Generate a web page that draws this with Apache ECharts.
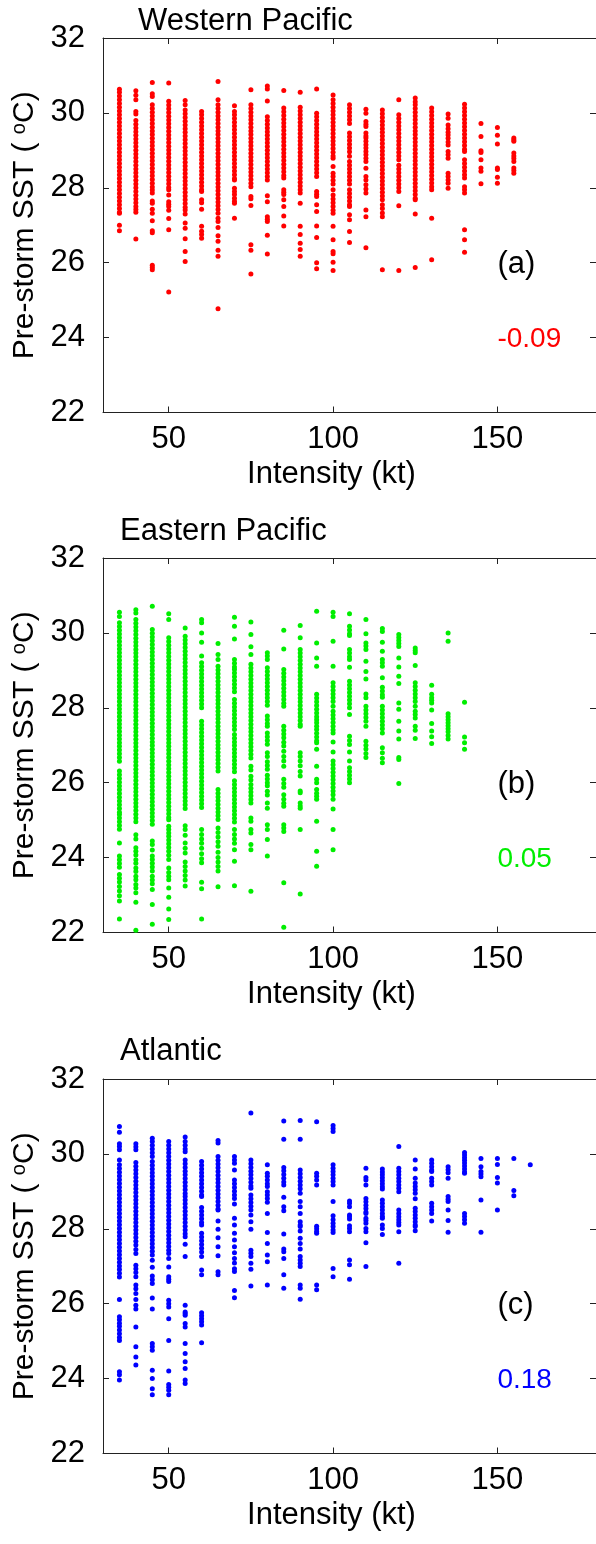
<!DOCTYPE html>
<html>
<head>
<meta charset="utf-8">
<script src="https://cdn.jsdelivr.net/npm/echarts@6/dist/echarts.min.js"></script>
<style>
  html, body { margin: 0; padding: 0; background: #fff; overflow: hidden; }
  #chart { width: 596px; height: 1544px; }
</style>
</head>
<body>
<div id="chart"></div>
<script>
// Intensity bins (kt); each basin array holds one list of pre-storm SST (degC) per bin
const intensityKt = [35,40,45,50,55,60,65,70,75,80,85,90,95,100,105,110,115,120,125,130,135,140,145,150,155,160];

const wpSst = [
  [30.63,30.55,30.45,30.35,30.25,30.15,30.05,29.95,29.85,29.75,29.65,29.55,29.45,29.35,29.25,29.15,29.05,28.95,28.85,28.75,28.65,28.55,28.45,28.35,28.25,28.15,28.05,27.95,27.85,27.75,27.65,27.55,27.45,27.35,27.32,27.0,26.85],
  [30.59,30.47,30.35,30.04,29.97,29.8,29.7,29.6,29.5,29.4,29.3,29.2,29.1,29.0,28.9,28.8,28.7,28.6,28.5,28.4,28.3,28.2,28.1,28.0,27.9,27.8,27.7,27.6,27.5,27.42,27.35,26.63],
  [30.81,30.51,30.44,30.22,30.12,30.02,29.92,29.82,29.72,29.62,29.52,29.42,29.32,29.22,29.12,29.02,28.92,28.82,28.72,28.62,28.52,28.42,28.32,28.22,28.12,28.02,27.94,27.86,27.65,27.59,27.43,27.32,27.12,26.85,26.8,25.93,25.87,25.81],
  [30.8,30.31,30.21,30.11,30.01,29.91,29.81,29.71,29.61,29.51,29.41,29.31,29.21,29.11,29.01,28.91,28.81,28.71,28.61,28.51,28.41,28.31,28.21,28.11,28.01,27.95,27.81,27.63,27.56,27.5,27.4,27.18,26.88,25.22],
  [30.33,30.22,30.08,29.98,29.88,29.78,29.68,29.58,29.48,29.38,29.28,29.18,29.08,28.98,28.88,28.78,28.68,28.58,28.48,28.38,28.28,28.18,28.08,27.98,27.88,27.78,27.68,27.58,27.48,27.41,27.3,27.06,26.92,26.64,26.3,26.03],
  [30.04,29.95,29.85,29.75,29.65,29.55,29.45,29.35,29.25,29.15,29.05,28.95,28.85,28.75,28.65,28.55,28.45,28.35,28.25,28.15,28.05,27.95,27.9,27.68,27.6,27.43,26.97,26.84,26.75,26.65],
  [30.84,30.35,30.22,30.12,30.02,29.92,29.82,29.72,29.62,29.52,29.42,29.32,29.22,29.12,29.02,28.92,28.82,28.72,28.62,28.52,28.42,28.32,28.22,28.12,28.02,27.92,27.82,27.72,27.62,27.52,27.42,27.32,27.19,27.1,26.94,26.72,26.57,26.33,26.17,24.77],
  [30.19,30.04,29.95,29.85,29.75,29.65,29.55,29.45,29.35,29.25,29.15,29.05,28.95,28.85,28.75,28.65,28.55,28.45,28.35,28.25,28.21,27.99,27.9,27.82,27.72,27.64,27.59,27.19],
  [30.62,30.22,30.12,30.02,29.92,29.82,29.72,29.62,29.52,29.42,29.32,29.22,29.12,29.02,28.92,28.82,28.72,28.62,28.52,28.42,28.32,28.22,28.12,28.03,27.77,27.71,27.53,26.48,26.33,25.7],
  [30.72,30.64,30.32,29.9,29.8,29.7,29.6,29.5,29.4,29.3,29.2,29.1,29.0,28.9,28.8,28.7,28.6,28.5,28.4,28.3,28.21,27.79,27.63,27.23,27.16,27.1,26.73,26.23],
  [30.6,30.13,30.03,29.93,29.83,29.73,29.63,29.53,29.43,29.33,29.23,29.13,29.03,28.93,28.83,28.73,28.63,28.53,28.43,28.33,28.26,27.95,27.88,27.82,27.68,27.5,27.25,26.98],
  [30.55,30.15,30.05,29.95,29.85,29.75,29.65,29.55,29.45,29.35,29.25,29.15,29.05,28.95,28.85,28.75,28.65,28.55,28.45,28.35,28.25,28.15,28.05,27.95,27.86,27.59,26.97,26.75,26.52,26.35,26.17],
  [30.64,29.99,29.9,29.8,29.7,29.6,29.5,29.4,29.3,29.2,29.1,29.0,28.9,28.8,28.7,28.6,28.5,28.4,28.3,27.9,27.83,27.77,27.55,27.37,26.98,26.67,26.0,25.84],
  [30.48,30.35,30.25,30.15,30.05,29.95,29.85,29.75,29.65,29.55,29.45,29.35,29.25,29.15,29.05,28.95,28.85,28.79,28.57,28.39,28.3,28.2,28.1,27.95,27.81,27.7,27.6,27.5,27.4,27.32,26.97,26.61,26.3,26.24,26.01,25.79],
  [30.22,30.12,30.02,29.92,29.82,29.72,29.46,29.36,29.26,29.16,29.06,28.96,28.84,28.7,28.6,28.5,28.4,28.3,28.2,28.1,27.95,27.85,27.75,27.65,27.55,27.5,27.28,27.15,26.83,26.54],
  [30.1,29.99,29.77,29.7,29.64,29.46,29.38,29.33,29.24,29.15,29.06,28.97,28.88,28.79,28.7,28.52,28.3,28.21,28.08,27.97,27.86,27.41,27.23,26.4],
  [30.08,29.98,29.88,29.78,29.68,29.58,29.48,29.38,29.28,29.18,29.08,28.98,28.88,28.78,28.68,28.58,28.48,28.38,28.28,28.18,28.08,27.98,27.88,27.78,27.68,27.55,27.45,27.33,27.23,25.81],
  [30.35,29.95,29.85,29.75,29.65,29.55,29.45,29.35,29.25,29.15,29.05,28.95,28.85,28.75,28.6,28.5,28.4,28.3,28.2,28.1,28.0,27.9,27.52,25.79],
  [30.4,30.3,30.22,30.12,30.02,29.92,29.82,29.72,29.62,29.52,29.42,29.32,29.22,29.12,29.02,28.92,28.82,28.72,28.62,28.52,28.42,28.32,28.22,28.12,28.02,27.92,27.82,27.72,27.68,27.3,25.87],
  [30.13,30.03,29.93,29.83,29.73,29.63,29.53,29.43,29.33,29.23,29.13,29.03,28.93,28.83,28.73,28.63,28.53,28.43,28.33,28.23,28.13,28.03,27.95,27.19,26.08],
  [29.97,29.86,29.68,29.58,29.48,29.41,29.32,29.22,29.14,28.97,28.88,28.79,28.39,28.3,28.21,28.12,27.99],
  [30.23,30.13,30.03,29.93,29.83,29.73,29.63,29.53,29.43,29.33,29.23,29.13,29.03,28.97,28.75,28.65,28.55,28.45,28.35,28.26,28.03,27.95,27.86,26.88,26.61,26.28],
  [29.72,29.37,28.99,28.94,28.75,28.53,28.44,28.11],
  [29.61,29.4,29.17,28.53,28.49,28.28,28.12],
  [29.33,29.28,29.24,28.93,28.85,28.78,28.7,28.53,28.46,28.39],
  []
];

const epSst = [
  [30.55,30.44,30.27,30.17,30.07,29.97,29.87,29.77,29.67,29.57,29.47,29.37,29.27,29.17,29.07,28.97,28.87,28.77,28.67,28.57,28.47,28.37,28.27,28.17,28.07,27.97,27.87,27.77,27.67,27.57,27.47,27.37,27.27,27.17,27.07,26.97,26.87,26.77,26.67,26.57,26.31,26.21,26.11,26.01,25.91,25.81,25.71,25.61,25.51,25.41,25.31,25.21,25.15,25.06,24.96,24.86,24.76,24.39,24.04,23.94,23.84,23.74,23.55,23.45,23.35,23.23,23.11,22.98,22.84,22.36],
  [30.62,30.53,30.36,30.26,30.16,30.06,29.96,29.86,29.76,29.66,29.56,29.46,29.36,29.26,29.16,29.06,28.96,28.86,28.76,28.66,28.56,28.46,28.36,28.26,28.16,28.06,27.96,27.86,27.76,27.66,27.56,27.46,27.36,27.26,27.16,27.06,26.96,26.86,26.76,26.66,26.56,26.46,26.36,26.26,26.16,26.06,25.96,25.86,25.76,25.66,25.56,25.46,25.36,25.26,25.16,25.06,24.96,24.61,24.5,24.26,24.17,24.07,23.94,23.85,23.72,23.63,23.5,23.41,23.28,23.19,23.06,22.81,22.06],
  [30.71,30.09,29.99,29.89,29.79,29.69,29.59,29.49,29.39,29.29,29.19,29.09,28.99,28.89,28.79,28.69,28.59,28.49,28.39,28.29,28.19,28.09,27.99,27.89,27.79,27.69,27.59,27.49,27.39,27.29,27.19,27.09,26.99,26.89,26.79,26.69,26.59,26.49,26.39,26.29,26.19,26.09,25.99,25.89,25.79,25.69,25.59,25.49,25.39,25.29,25.19,25.09,24.99,24.89,24.44,24.35,24.2,24.04,23.95,23.85,23.75,23.64,23.5,23.4,23.3,23.15,22.75,22.22],
  [30.51,30.36,29.87,29.77,29.67,29.57,29.47,29.37,29.27,29.17,29.07,28.97,28.87,28.77,28.67,28.57,28.47,28.37,28.27,28.17,28.07,27.97,27.87,27.77,27.67,27.57,27.47,27.37,27.27,27.17,27.07,26.97,26.87,26.77,26.67,26.57,26.47,26.37,26.27,26.17,26.07,25.97,25.87,25.77,25.67,25.57,25.47,25.37,25.27,25.17,25.07,25.01,24.84,24.75,24.66,24.57,24.47,24.37,24.27,24.17,24.06,23.95,23.72,23.6,23.5,23.41,23.19,22.94,22.63,22.35],
  [30.13,29.91,29.81,29.71,29.61,29.51,29.41,29.31,29.21,29.11,29.01,28.91,28.81,28.71,28.61,28.51,28.41,28.31,28.21,28.11,28.01,27.91,27.81,27.71,27.61,27.51,27.41,27.31,27.21,27.11,27.01,26.91,26.81,26.71,26.61,26.51,26.41,26.31,26.21,26.11,26.01,25.91,25.81,25.71,25.61,25.51,25.41,25.31,24.85,24.75,24.6,24.39,24.25,24.12,23.88,23.76,23.64,23.52,23.4,23.24],
  [30.36,30.27,30.0,29.75,29.38,29.2,29.1,29.0,28.9,28.8,28.7,28.6,28.5,28.4,28.3,28.2,28.1,28.0,27.64,27.54,27.44,27.34,27.24,27.14,27.04,26.94,26.84,26.74,26.64,26.54,26.44,26.34,26.24,26.14,26.04,25.94,25.84,25.74,25.64,25.54,25.44,25.34,24.75,24.62,24.5,24.38,24.25,24.1,23.97,23.86,23.34,23.17,22.36],
  [29.72,29.42,29.29,29.11,29.01,28.91,28.81,28.71,28.61,28.51,28.41,28.31,28.21,28.11,28.01,27.91,27.81,27.71,27.61,27.51,27.41,27.31,27.21,27.11,27.01,26.91,26.81,26.71,26.61,26.51,26.41,26.31,25.82,25.72,25.62,25.52,25.42,25.32,25.22,25.12,25.02,24.79,24.67,24.55,24.42,24.3,24.14,24.0,23.88,23.76,23.64,23.22],
  [30.42,30.18,29.84,29.29,29.19,29.09,29.02,28.93,28.83,28.73,28.63,28.53,28.43,28.22,28.12,28.02,27.92,27.82,27.72,27.62,27.52,27.42,27.29,27.19,27.09,26.99,26.89,26.79,26.69,26.59,26.49,26.39,26.29,26.05,25.95,25.85,25.75,25.65,25.55,25.45,25.35,25.25,25.15,25.05,24.95,24.75,24.62,24.5,24.38,24.21,23.9,23.25],
  [30.29,29.96,29.63,29.42,29.16,29.06,28.96,28.86,28.76,28.66,28.56,28.46,28.36,28.26,28.16,28.06,27.96,27.86,27.76,27.66,27.56,27.46,27.36,27.26,27.16,27.06,26.96,26.86,26.76,26.66,26.44,26.34,26.17,26.07,25.95,25.85,25.75,25.65,25.55,25.46,25.06,24.97,24.75,24.66,24.35,24.21,23.1],
  [29.47,29.38,29.29,29.07,28.97,28.87,28.77,28.67,28.57,28.47,28.37,28.27,28.17,28.07,27.78,27.68,27.58,27.51,27.33,27.23,27.13,27.03,26.8,26.7,26.56,26.46,26.36,26.2,26.1,26.0,25.92,25.77,25.67,25.46,25.32,24.88,24.75,24.48,24.04],
  [30.07,29.57,29.02,28.92,28.82,28.72,28.62,28.52,28.42,28.32,28.22,28.12,28.04,27.51,27.4,27.3,27.2,27.08,26.98,26.84,26.7,26.58,26.44,26.09,25.98,25.88,25.68,25.56,25.45,25.37,24.88,24.79,24.7,23.33,22.14],
  [30.2,29.87,29.56,29.46,29.36,29.26,29.16,29.06,28.96,28.86,28.76,28.66,28.56,28.46,28.36,28.26,28.16,28.06,27.96,27.86,27.76,27.66,27.56,27.51,26.8,26.7,26.58,26.45,26.3,26.18,25.78,25.73,25.46,25.38,25.32,24.75,23.03],
  [30.58,29.73,29.33,29.11,28.36,28.26,28.16,28.06,27.96,27.86,27.76,27.68,27.6,27.51,27.42,27.32,27.22,27.12,27.07,26.89,26.44,26.09,26.0,25.82,25.72,25.64,25.56,24.97,24.17,23.77],
  [30.55,30.44,29.78,29.11,28.67,28.57,28.47,28.37,28.27,28.17,28.04,27.91,27.81,27.71,27.61,27.51,27.41,27.33,27.09,26.82,26.58,26.48,26.38,26.28,26.18,26.08,25.98,25.88,25.78,25.68,25.56,25.3,24.75,24.21],
  [30.51,30.18,30.08,29.98,29.93,29.56,29.46,29.36,29.29,29.08,28.71,28.61,28.51,28.41,28.31,28.21,28.11,28.0,27.82,27.24,27.13,27.02,26.82,26.58,26.4,26.3,26.2,26.1,26.0],
  [30.36,29.98,29.73,29.65,29.56,29.24,28.97,28.77,28.37,28.27,28.04,27.94,27.84,27.74,27.64,27.51,27.11,27.0,26.9,26.78,26.67],
  [30.12,30.04,29.75,29.51,29.29,29.2,29.11,28.8,28.55,28.45,28.35,28.28,28.04,27.94,27.84,27.74,27.64,27.54,27.44,27.33,26.93,26.8,26.65,26.53],
  [29.96,29.88,29.8,29.72,29.64,29.33,29.09,28.84,28.65,28.13,27.96,27.64,27.38,27.17,26.67,26.62,25.98],
  [29.6,29.53,29.47,29.13,28.67,28.57,28.47,28.37,28.27,28.17,28.04,27.91,27.82,27.73,27.51,27.4,27.18],
  [28.6,28.36,28.27,28.2,28.13,27.94,27.58,27.38,27.23,27.05],
  [30.0,29.78,27.84,27.76,27.68,27.6,27.52,27.44,27.36,27.26,27.17],
  [28.15,27.22,27.07,26.89],
  [], [], [], []
];

const atlSst = [
  [30.73,30.58,30.27,30.2,30.11,29.84,29.71,29.61,29.51,29.41,29.31,29.21,29.11,29.01,28.91,28.81,28.71,28.61,28.51,28.41,28.31,28.21,28.11,28.01,27.91,27.81,27.71,27.61,27.51,27.41,27.31,27.21,27.11,27.01,26.91,26.81,26.71,26.11,25.65,25.57,25.48,25.4,25.3,25.2,25.1,25.02,24.18,24.1,23.96],
  [30.27,30.19,30.11,29.77,29.67,29.57,29.47,29.37,29.27,29.17,29.07,28.97,28.87,28.77,28.67,28.57,28.47,28.37,28.27,28.17,28.07,27.97,27.87,27.77,27.67,27.57,27.45,27.34,27.03,26.93,26.83,26.72,26.5,26.4,26.27,26.11,25.96,25.86,25.38,24.85,24.58,24.36],
  [30.42,30.33,30.23,30.13,30.03,29.93,29.8,29.7,29.6,29.5,29.4,29.3,29.2,29.1,29.0,28.9,28.8,28.7,28.6,28.5,28.4,28.3,28.2,28.1,28.0,27.9,27.8,27.7,27.6,27.5,27.4,27.3,27.16,26.97,26.74,26.64,26.54,26.15,25.86,24.94,24.85,24.76,24.22,24.0,23.73,23.57],
  [30.33,30.23,30.13,30.03,29.93,29.83,29.73,29.63,29.53,29.43,29.33,29.23,29.13,29.03,28.93,28.83,28.73,28.63,28.53,28.43,28.33,28.23,28.13,28.03,27.93,27.83,27.73,27.63,27.53,27.43,27.34,27.21,26.98,26.72,26.65,26.59,26.09,26.0,25.91,25.6,25.02,24.2,23.84,23.77,23.69,23.57],
  [30.45,30.33,30.23,30.13,30.06,29.84,29.74,29.64,29.54,29.44,29.34,29.24,29.14,29.04,28.94,28.86,28.77,28.67,28.57,28.47,28.37,28.27,28.17,28.07,27.97,27.87,27.79,27.59,27.26,25.96,25.78,25.74,25.69,25.47,25.38,24.94,24.67,24.45,24.27,23.96,23.87],
  [29.8,29.7,29.6,29.5,29.4,29.3,29.2,29.1,29.0,28.9,28.86,28.57,28.47,28.37,28.27,28.17,28.1,27.88,27.78,27.68,27.58,27.48,27.38,27.26,26.9,26.77,25.76,25.68,25.6,25.52,25.43,24.96],
  [30.36,30.29,29.93,29.83,29.73,29.63,29.53,29.43,29.33,29.23,29.13,29.03,28.93,28.83,28.73,28.63,28.53,28.5,28.21,27.99,27.76,27.52,27.28,26.85,26.77],
  [29.93,29.84,29.75,29.57,29.3,29.2,29.1,29.0,28.9,28.81,28.66,28.28,28.1,27.88,27.7,27.52,27.36,27.21,27.09,26.93,26.86,26.35,26.16],
  [31.09,29.84,29.74,29.64,29.54,29.44,29.34,29.24,29.14,29.08,28.9,28.8,28.7,28.6,28.5,28.37,28.19,27.99,27.43,27.35,27.26,27.08,26.92,26.47],
  [29.71,29.48,29.4,29.3,29.2,29.13,28.99,28.9,28.81,28.71,28.41,27.9,27.61,27.3,27.12,26.5],
  [30.88,30.39,29.64,29.55,29.45,29.35,29.25,29.17,28.84,28.59,28.48,27.86,27.46,27.39,27.21,26.77,26.41],
  [30.89,30.39,29.57,29.47,29.37,29.27,29.17,29.07,28.95,28.73,28.59,28.41,28.19,28.1,28.06,27.94,27.75,27.61,27.46,27.26,27.17,27.08,26.99,26.5,26.41,26.12],
  [30.86,29.48,29.4,29.3,29.17,28.07,28.0,27.93,27.88,26.5,26.37],
  [30.76,30.68,30.6,29.71,29.62,29.53,29.44,29.35,29.26,29.17,28.73,28.35,28.24,28.15,28.06,27.97,27.9,26.94,26.72],
  [28.74,28.68,28.59,28.37,28.32,28.26,28.08,28.01,27.92,27.17,27.04,26.65],
  [29.62,29.37,29.3,29.17,28.81,28.72,28.63,28.54,28.45,28.41,28.28,28.22,28.15,28.01,27.92,27.63,26.99],
  [29.6,29.52,29.44,29.36,29.28,29.2,29.12,29.06,28.77,28.68,28.59,28.5,28.41,28.33,28.28,28.1,28.01,27.85],
  [30.2,29.62,29.53,29.44,29.35,29.26,29.17,29.08,28.99,28.5,28.41,28.32,28.24,28.17,28.1,27.92,27.08],
  [29.84,29.6,29.35,29.22,29.13,29.04,28.95,28.8,28.55,28.46,28.37,28.28,28.19,28.1,28.06,27.95],
  [29.84,29.75,29.66,29.57,29.53,29.35,29.26,29.17,28.68,28.59,28.5,28.41,28.21],
  [29.66,29.58,29.5,29.35,28.86,28.79,28.73,28.5,28.22,27.91],
  [30.04,29.97,29.9,29.83,29.76,29.68,29.6,29.52,29.48,28.41,28.33,28.24,28.15],
  [29.88,29.66,29.53,29.46,29.39,28.77,27.91],
  [29.88,29.72,29.37,29.22,28.5],
  [29.88,29.02,28.88],
  [29.71]
];

const basinNames = ['Western Pacific', 'Eastern Pacific', 'Atlantic'];
const panelTags = ['(a)', '(b)', '(c)'];
const correlations = [-0.09, 0.05, 0.18];
const basinColors = ['#ff0000', '#00ee00', '#0000ff'];
const xTickValues = [50, 100, 150];
const xRange = [30, 180];
const yRange = [22, 32];
const yTickStep = 2;

const FONT = '"Liberation Sans", Arial, sans-serif';
const AXIS_COLOR = '#222';
const panelTops = [38, 558, 1079];
const panelHeight = 374.5;
const titleSpots = [[138, 21], [120, 531], [120, 1051]];

function toPoints(columns) {
  const pts = [];
  columns.forEach((col, i) => col.forEach(v => pts.push([intensityKt[i], v])));
  return pts;
}

const basinSst = [wpSst, epSst, atlSst];
const axisLine = { show: true, onZero: false, lineStyle: { color: AXIS_COLOR, width: 1 } };
const tickStyle = { show: true, inside: true, length: 6, lineStyle: { color: AXIS_COLOR, width: 1 } };

const grids = [], xAxes = [], topAxes = [], yAxes = [], rightAxes = [], series = [];
for (let i = 0; i < 3; i++) {
  // plot box spans x=103..599; the page (596 px wide) ends just before its right edge
  grids.push({ left: 103, top: panelTops[i], width: 496, height: panelHeight, containLabel: false });
  xAxes.push({
    gridIndex: i, type: 'value', position: 'bottom', min: xRange[0], max: xRange[1],
    axisLine, axisTick: Object.assign({ customValues: xTickValues }, tickStyle),
    axisLabel: { customValues: xTickValues, fontSize: 31, color: '#000', fontFamily: FONT, margin: 11 },
    splitLine: { show: false },
    name: 'Intensity (kt)', nameLocation: 'middle', nameGap: 46,
    nameTextStyle: { fontSize: 31, color: '#000', fontFamily: FONT, padding: [0, 36, 0, 0] }
  });
  topAxes.push({
    gridIndex: i, type: 'value', position: 'top', min: xRange[0], max: xRange[1],
    axisLine, axisTick: Object.assign({ customValues: xTickValues }, tickStyle),
    axisLabel: { show: false }, splitLine: { show: false }
  });
  yAxes.push({
    gridIndex: i, type: 'value', position: 'left', min: yRange[0], max: yRange[1], interval: yTickStep,
    axisLine, axisTick: tickStyle,
    axisLabel: { fontSize: 31, color: '#000', fontFamily: FONT, margin: 18 },
    splitLine: { show: false },
    name: 'Pre-storm SST ( {sup|o}C)', nameLocation: 'middle', nameRotate: 90, nameGap: 62,
    nameTextStyle: {
      fontSize: 30, color: '#000', fontFamily: FONT,
      rich: { sup: { fontSize: 20, color: '#000', fontFamily: FONT, verticalAlign: 'top' } }
    }
  });
  // right-hand frame: its inward ticks reach into the page
  rightAxes.push({
    gridIndex: i, type: 'value', position: 'right', min: yRange[0], max: yRange[1], interval: yTickStep,
    axisLine: { show: false }, axisTick: tickStyle, axisLabel: { show: false }, splitLine: { show: false }
  });
  series.push({
    type: 'scatter', xAxisIndex: i, yAxisIndex: i,
    data: toPoints(basinSst[i]),
    symbol: 'circle', symbolSize: 5,
    itemStyle: { color: basinColors[i], opacity: 1 },
    silent: true
  });
}

const chart = echarts.init(document.getElementById('chart'), null, { renderer: 'canvas' });
chart.setOption({
  backgroundColor: '#fff',
  animation: false,
  textStyle: { fontFamily: FONT },
  grid: grids,
  xAxis: xAxes.concat(topAxes),
  yAxis: yAxes.concat(rightAxes),
  series
});

// Basin titles, panel tags and correlation values
const graphics = [];
for (let i = 0; i < 3; i++) {
  graphics.push({
    type: 'text', x: titleSpots[i][0], y: titleSpots[i][1],
    style: { text: basinNames[i], fontSize: 31, fontFamily: FONT, fill: '#000', align: 'left', verticalAlign: 'middle' }
  });
  const tagPos = chart.convertToPixel({ gridIndex: i }, [150, 26]);
  graphics.push({
    type: 'text', x: tagPos[0], y: tagPos[1] + 2,
    style: { text: panelTags[i], fontSize: 31, fontFamily: FONT, fill: '#000', align: 'left', verticalAlign: 'middle' }
  });
  const corPos = chart.convertToPixel({ gridIndex: i }, [150, 24]);
  graphics.push({
    type: 'text', x: corPos[0], y: corPos[1] + 1.5,
    style: { text: correlations[i].toFixed(2), fontSize: 28, fontFamily: FONT, fill: basinColors[i], align: 'left', verticalAlign: 'middle' }
  });
}
chart.setOption({ graphic: graphics });
</script>
</body>
</html>
